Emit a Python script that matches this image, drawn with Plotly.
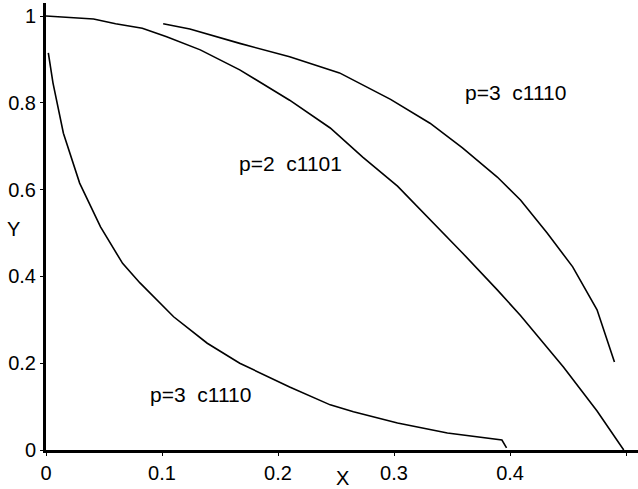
import plotly.graph_objects as go

# Upper curve: p=3 c1110
x_upper = [0.101, 0.124, 0.167, 0.210, 0.253, 0.297, 0.331, 0.359, 0.389, 0.409, 0.432, 0.454, 0.475, 0.490]
y_upper = [0.982, 0.970, 0.937, 0.906, 0.869, 0.808, 0.753, 0.696, 0.629, 0.576, 0.500, 0.422, 0.323, 0.203]

# Middle curve: p=2 c1101
x_mid = [0.0, 0.041, 0.060, 0.083, 0.104, 0.133, 0.167, 0.210, 0.245, 0.273, 0.303, 0.331, 0.359, 0.389, 0.409, 0.446, 0.475, 0.498]
y_mid = [1.0, 0.993, 0.982, 0.972, 0.952, 0.922, 0.876, 0.806, 0.742, 0.675, 0.608, 0.532, 0.454, 0.369, 0.310, 0.191, 0.090, 0.0]

# Lower curve: p=3 c1110
x_low = [0.002, 0.006, 0.015, 0.029, 0.047, 0.066, 0.081, 0.110, 0.139, 0.167, 0.210, 0.245, 0.265, 0.303, 0.346, 0.393, 0.397]
y_low = [0.915, 0.846, 0.730, 0.615, 0.514, 0.430, 0.385, 0.307, 0.246, 0.200, 0.145, 0.104, 0.088, 0.062, 0.039, 0.023, 0.005]

labels = ["p=3  c1110", "p=2  c1101", "p=3  c1110"]
label_x = [0.405, 0.211, 0.133]
label_y = [0.823, 0.661, 0.127]

x_ticks = [0, 0.1, 0.2, 0.3, 0.4, 0.5]
x_ticktext = ["0", "0.1", "0.2", "0.3", "0.4", "0.5"]
y_ticks = [0, 0.2, 0.4, 0.6, 0.8, 1]
y_ticktext = ["0", "0.2", "0.4", "0.6", "0.8", "1"]

FONT = "Liberation Sans, Arial, sans-serif"

fig = go.Figure()
for xs, ys in [(x_upper, y_upper), (x_mid, y_mid), (x_low, y_low)]:
    fig.add_trace(go.Scatter(x=xs, y=ys, mode="lines",
                             line=dict(color="black", width=1.6),
                             showlegend=False, hoverinfo="skip"))

for t, xx, yy in zip(labels, label_x, label_y):
    fig.add_annotation(x=xx, y=yy, text=t, showarrow=False,
                       font=dict(size=21, color="black", family=FONT))

fig.add_annotation(x=-0.0557, y=0.494, xref="paper", yref="paper", text="Y", showarrow=False,
                   xanchor="center", yanchor="middle",
                   font=dict(size=20, color="black", family=FONT))
fig.add_annotation(x=0.5, y=-0.063, xref="paper", yref="paper", text="X", showarrow=False,
                   xanchor="center", yanchor="middle",
                   font=dict(size=20, color="black", family=FONT))

fig.update_layout(
    width=638, height=489,
    margin=dict(l=46, r=0, t=3, b=39),
    paper_bgcolor="white", plot_bgcolor="white",
    font=dict(family=FONT, size=20, color="black"),
    xaxis=dict(range=[0, 0.5103], tickvals=x_ticks, ticktext=x_ticktext,
               showgrid=False, zeroline=False, showline=True, linewidth=3,
               linecolor="black", ticks="outside", ticklen=3, tickcolor="black",
               tickwidth=1, fixedrange=True),
    yaxis=dict(range=[0, 1.03], tickvals=y_ticks, ticktext=y_ticktext,
               showgrid=False, zeroline=False, showline=True, linewidth=3,
               linecolor="black", ticks="outside", ticklen=3, tickcolor="black",
               tickwidth=1, fixedrange=True),
)

fig.write_html("out.html", config={"displayModeBar": False},
               post_script="document.body.style.margin='0';document.body.style.overflow='hidden';")
